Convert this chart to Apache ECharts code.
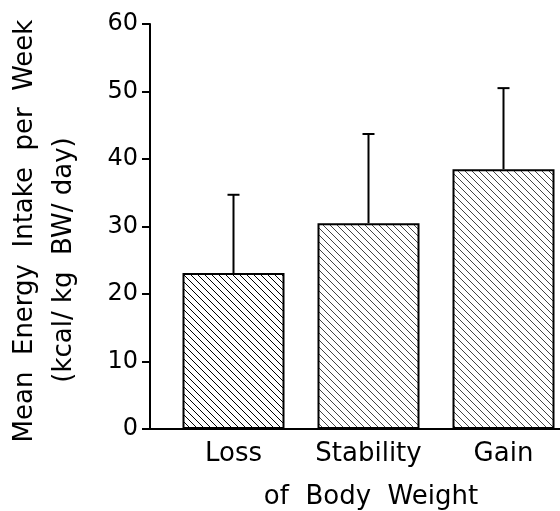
<!DOCTYPE html>
<html>
<head>
<meta charset="utf-8">
<script src="https://cdn.jsdelivr.net/npm/echarts@6/dist/echarts.min.js"></script>
<style>html,body{margin:0;padding:0;background:#fff}#chart{width:560px;height:511px}</style>
</head>
<body>
<div id="chart"></div>
<script>
// data
const categories = ['Loss', 'Stability', 'Gain'];
const means = [23.1, 30.5, 38.5];
const errTop = [34.7, 43.7, 50.5];
const yTicks = [0, 10, 20, 30, 40, 50, 60];

const FONT = 'DejaVu Sans';

// hatch pattern "\\\\"
function hatch(color) {
    const c = document.createElement('canvas');
    c.width = 7; c.height = 7;
    const ctx = c.getContext('2d');
    ctx.fillStyle = '#fff';
    ctx.fillRect(0, 0, 7, 7);
    ctx.strokeStyle = color;
    ctx.lineWidth = 1;
    for (let k = -1; k <= 1; k++) {
        ctx.beginPath();
        ctx.moveTo(-1, -1 + k * 7);
        ctx.lineTo(8, 8 + k * 7);
        ctx.stroke();
    }
    return { image: c, repeat: 'repeat' };
}

const chart = echarts.init(document.getElementById('chart'));

chart.setOption({
    animation: false,
    backgroundColor: '#fff',
    grid: [
        { left: 166, width: 405, top: 24, bottom: 82, outerBoundsMode: 'none' },
        { left: 150, right: 0, top: 24, bottom: 82, outerBoundsMode: 'none' }
    ],
    xAxis: [
        {
            type: 'category', gridIndex: 0, data: categories,
            axisLine: { show: false }, axisTick: { show: false },
            axisLabel: { color: '#000', fontFamily: FONT, fontSize: 26, margin: 12, interval: 0, hideOverlap: false }
        },
        {
            type: 'value', gridIndex: 1, min: 0, max: 1,
            axisLine: { show: true, lineStyle: { color: '#000', width: 2 } },
            axisTick: { show: false }, axisLabel: { show: false }, splitLine: { show: false }
        }
    ],
    yAxis: [
        {
            type: 'value', gridIndex: 0, min: 0, max: 60, interval: 10, offset: 16,
            axisLine: { show: true, lineStyle: { color: '#000', width: 2 } },
            axisTick: { show: true, length: 8, lineStyle: { color: '#000', width: 2 } },
            axisLabel: { color: '#000', fontFamily: FONT, fontSize: 24, margin: 12,
                formatter: v => yTicks.includes(v) ? String(v) : '' },
            splitLine: { show: false }
        },
        { type: 'value', gridIndex: 1, show: false, min: 0, max: 60 }
    ],
    series: [
        {
            type: 'bar', xAxisIndex: 0, yAxisIndex: 0, barWidth: 102,
            data: means.map((v, i) => ({
                value: v,
                itemStyle: { color: hatch(i === 0 ? '#000' : '#444'), borderColor: '#000', borderWidth: 2 }
            })),
            z: 2
        },
        {
            type: 'custom', xAxisIndex: 0, yAxisIndex: 0, z: 1,
            data: means.map((v, i) => [i, v, errTop[i]]),
            renderItem: function (params, api) {
                const base = api.coord([api.value(0), api.value(1)]);
                const top = api.coord([api.value(0), api.value(2)]);
                const st = { stroke: '#000', lineWidth: 2 };
                return {
                    type: 'group',
                    children: [
                        { type: 'line', shape: { x1: base[0], y1: base[1], x2: top[0], y2: top[1] }, style: st },
                        { type: 'line', shape: { x1: top[0] - 6, y1: top[1], x2: top[0] + 6, y2: top[1] }, style: st }
                    ]
                };
            }
        }
    ],
    graphic: [
        {
            type: 'text', x: 25, y: 231, rotation: Math.PI / 2,
            style: { text: 'Mean  Energy  Intake  per  Week', font: '26px "DejaVu Sans"', fill: '#000',
                align: 'center', verticalAlign: 'middle' }
        },
        {
            type: 'text', x: 64, y: 260, rotation: Math.PI / 2,
            style: { text: '(kcal/ kg  BW/ day)', font: '26px "DejaVu Sans"', fill: '#000',
                align: 'center', verticalAlign: 'middle' }
        },
        {
            type: 'text', x: 371, y: 497,
            style: { text: 'of  Body  Weight', font: '26px "DejaVu Sans"', fill: '#000',
                align: 'center', verticalAlign: 'middle' }
        }
    ]
});
</script>
</body>
</html>
